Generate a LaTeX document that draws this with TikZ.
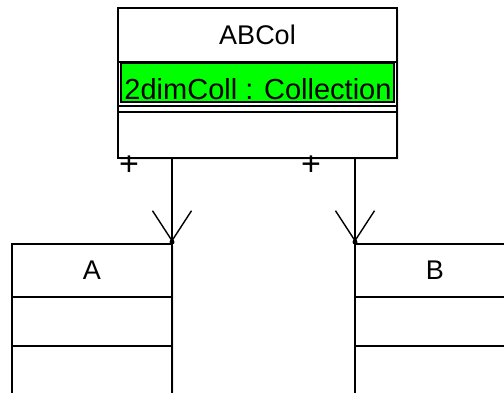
\documentclass[tikz,border=0pt]{standalone}
\usepackage{fontspec}
\setmainfont{Liberation Sans}
\usetikzlibrary{arrows.meta, positioning, shadows}

\tikzset{
  classbox/.style={draw, line width=2pt, fill=white, inner sep=0pt, outer sep=0pt,
    anchor=north west, drop shadow={shadow xshift=2pt, shadow yshift=-2pt, fill=black!15}},
  classname/.style={font=\fontsize{27}{30}\selectfont},
  selattr/.style={draw, line width=2pt, fill=green, inner sep=0pt, outer sep=0pt, anchor=north west},
  attrtext/.style={font=\fontsize{29}{32}\selectfont, anchor=base},
  sepline/.style={line width=2pt},
  assoc/.style={line width=2pt, -{Straight Barb[length=30pt, width=39pt, line width=1.4pt]}},
  multlabel/.style={font=\fontsize{34}{36}\selectfont, inner sep=0pt}
}

\begin{document}
\begin{tikzpicture}[x=1pt, y=-1pt]
  \clip (0,0) rectangle (504,392);
  \fill[white] (0,0) rectangle (504,392);

  % Class ABCol
  \node[classbox, minimum width=279pt, minimum height=150pt] (abcol) at (118,8) {};
  \node[classname] (abcolname) at (257.5,35) {ABCol};
  \draw[sepline] (118,62) -- (397,62);
  \node[selattr, minimum width=273pt, minimum height=39pt] (attr) at (121,63) {};
  \node[attrtext] (attrtext) at (258,99) {2dimColl : Collection};
  \draw[sepline] (118,106) -- (397,106);
  \draw[sepline] (118,112) -- (397,112);

  % Class A
  \node[classbox, minimum width=160pt, minimum height=160pt] (A) at (12,244) {};
  \node[classname] (Aname) at (92,270) {A};
  \draw[sepline] (12,297) -- (172,297);
  \draw[sepline] (12,346) -- (172,346);

  % Class B
  \node[classbox, minimum width=160pt, minimum height=160pt] (B) at (355,244) {};
  \node[classname] (Bname) at (435,270) {B};
  \draw[sepline] (355,297) -- (515,297);
  \draw[sepline] (355,346) -- (515,346);

  % Associations
  \coordinate (tipA) at ([yshift=2pt]A.north east);
  \coordinate (tipB) at ([yshift=2pt]B.north west);
  \draw[assoc] (tipA |- abcol.south) -- (tipA);
  \draw[assoc] (tipB |- abcol.south) -- (tipB);
  \fill (tipA) circle (2.5pt);
  \fill (tipB) circle (2.5pt);
  \node[multlabel] (plusA) at (129,166) {+};
  \node[multlabel] (plusB) at (311,166) {+};
\end{tikzpicture}
\end{document}
